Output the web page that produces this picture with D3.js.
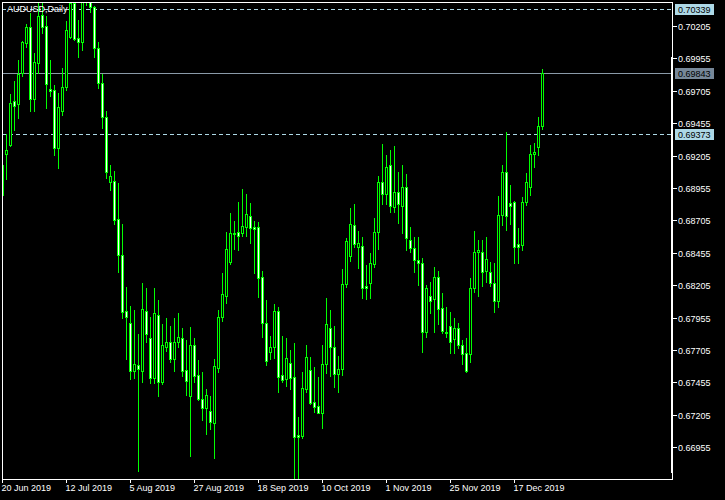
<!DOCTYPE html>
<html><head><meta charset="utf-8">
<script src="https://cdn.jsdelivr.net/npm/d3@7"></script>
<style>html,body{margin:0;padding:0;background:#000;}svg{display:block;}</style>
</head><body>
<script>
const symbolTitle = "AUDUSD,Daily";
const dateLabels = ["20 Jun 2019","12 Jul 2019","5 Aug 2019","27 Aug 2019","18 Sep 2019","10 Oct 2019","1 Nov 2019","25 Nov 2019","17 Dec 2019"];
const dateLabelBars = [0,16,32,48,64,80,96,112,128];
const priceTicks = [0.70205,0.69955,0.69705,0.69455,0.69205,0.68955,0.68705,0.68455,0.68205,0.67955,0.67705,0.67455,0.67205,0.66955];
const levelLines = [0.70339, 0.69373];
const lastPrice = 0.69843;

const opens = [
0.68901,0.69218,0.69287,0.69626,0.69603,0.69843,0.70074,0.70197,0.69642,0.69920,
0.70289,0.70205,0.69719,0.69711,0.69264,0.69549,0.69734,0.70120,0.70383,0.70112,
0.70082,0.70406,0.70421,0.70352,0.70035,0.69765,0.69503,0.69002,0.69009,0.68716,
0.68438,0.68006,0.67914,0.67544,0.67590,0.67544,0.68006,0.67798,0.67490,0.67975,
0.67459,0.67729,0.67768,0.67637,0.67768,0.67798,0.67552,0.67351,0.67744,0.67513,
0.67328,0.67258,0.67235,0.67143,0.67567,0.67960,0.68123,0.68385,0.68608,0.68616,
0.68608,0.68654,0.68740,0.68654,0.68654,0.68269,0.67914,0.67691,0.67729,0.68006,
0.67513,0.67483,0.67606,0.67498,0.67050,0.67043,0.67405,0.67552,0.67305,0.67274,
0.67220,0.67598,0.67875,0.67729,0.67521,0.67560,0.68215,0.68430,0.68669,0.68500,
0.68508,0.68200,0.68223,0.68369,0.68616,0.69002,0.68909,0.69132,0.68809,0.68925,
0.68817,0.68963,0.68554,0.68492,0.68400,0.68377,0.67845,0.68123,0.68099,0.68269,
0.68029,0.67845,0.67891,0.67791,0.67875,0.67744,0.67683,0.67675,0.68185,0.68462,
0.68462,0.68315,0.68308,0.68223,0.68084,0.68747,0.69079,0.68840,0.68848,0.68523,
0.68515,0.68848,0.68963,0.69218,0.69272,0.69434];
const highs = [
0.69226,0.69372,0.69680,0.69780,0.69943,0.70089,0.70220,0.70305,0.69997,0.70383,
0.70383,0.70282,0.69943,0.69749,0.69688,0.69881,0.70243,0.70445,0.70429,0.70251,
0.70452,0.70499,0.70445,0.70360,0.70082,0.69835,0.69549,0.69132,0.69086,0.68994,
0.68677,0.68192,0.68045,0.68014,0.67829,0.68223,0.68185,0.67960,0.68185,0.68091,
0.67906,0.67952,0.67891,0.67952,0.67991,0.67875,0.67783,0.67883,0.67798,0.67629,
0.67537,0.67405,0.67351,0.67637,0.68014,0.68300,0.68616,0.68763,0.68700,0.68848,
0.68948,0.68909,0.68840,0.68700,0.68693,0.68315,0.68091,0.67814,0.68060,0.68037,
0.67814,0.67798,0.67706,0.67760,0.67189,0.67537,0.67744,0.67652,0.67575,0.67498,
0.67744,0.68106,0.68014,0.67891,0.67660,0.68331,0.68569,0.68801,0.68832,0.68623,
0.68577,0.68362,0.68454,0.68724,0.69048,0.69295,0.69210,0.69249,0.69280,0.69079,
0.69132,0.69063,0.68654,0.68577,0.68577,0.68415,0.68208,0.68231,0.68346,0.68315,
0.68146,0.68037,0.67999,0.67952,0.67914,0.67783,0.67798,0.68261,0.68623,0.68554,
0.68554,0.68577,0.68385,0.68377,0.68894,0.69132,0.69388,0.68979,0.68856,0.68646,
0.68886,0.69071,0.69287,0.69303,0.69503,0.69874];
const lows = [
0.68786,0.69025,0.69280,0.69403,0.69495,0.69820,0.70043,0.69549,0.69549,0.69843,
0.70151,0.69572,0.69665,0.69210,0.69109,0.69518,0.69711,0.70112,0.70097,0.69966,
0.70020,0.70367,0.70313,0.69966,0.69726,0.69418,0.69032,0.68940,0.68677,0.68308,
0.67952,0.67637,0.67483,0.67490,0.66772,0.67459,0.67768,0.67451,0.67451,0.67351,
0.67443,0.67698,0.67614,0.67544,0.67729,0.67506,0.67358,0.66888,0.67459,0.67320,
0.67166,0.67058,0.67097,0.66872,0.67537,0.67929,0.68068,0.68369,0.68485,0.68477,
0.68585,0.68585,0.68531,0.68300,0.68115,0.67806,0.67590,0.67637,0.67644,0.67382,
0.67459,0.67428,0.67405,0.66718,0.66718,0.67027,0.67382,0.67289,0.67228,0.67216,
0.67104,0.67529,0.67506,0.67420,0.67382,0.67513,0.68192,0.68392,0.68500,0.68338,
0.68106,0.68099,0.68106,0.68346,0.68485,0.68832,0.68832,0.68771,0.68771,0.68685,
0.68608,0.68477,0.68462,0.68308,0.68208,0.67691,0.67806,0.67991,0.67845,0.67906,
0.67837,0.67806,0.67683,0.67683,0.67721,0.67598,0.67537,0.67614,0.68154,0.68123,
0.68200,0.68231,0.68200,0.67999,0.68037,0.68669,0.68631,0.68677,0.68377,0.68377,
0.68477,0.68825,0.68902,0.69117,0.69210,0.69411];
const closes = [
0.69132,0.69249,0.69611,0.69588,0.69835,0.70082,0.70197,0.69642,0.69928,0.70282,
0.70197,0.69757,0.69703,0.69264,0.69580,0.69734,0.70174,0.70383,0.70105,0.70082,
0.70406,0.70437,0.70352,0.70035,0.69765,0.69503,0.69079,0.69048,0.68708,0.68438,
0.67999,0.67960,0.67544,0.67598,0.67560,0.68022,0.67829,0.67490,0.67991,0.67459,
0.67744,0.67768,0.67637,0.67768,0.67806,0.67544,0.67467,0.67744,0.67506,0.67328,
0.67258,0.67358,0.67151,0.67583,0.67960,0.68138,0.68485,0.68608,0.68600,0.68585,
0.68662,0.68755,0.68646,0.68639,0.68261,0.67914,0.67621,0.67729,0.68006,0.67498,
0.67474,0.67644,0.67490,0.67035,0.67035,0.67413,0.67652,0.67297,0.67266,0.67222,
0.67598,0.67906,0.67729,0.67521,0.67560,0.68215,0.68546,0.68677,0.68523,0.68531,
0.68185,0.68185,0.68377,0.68616,0.69002,0.68909,0.69117,0.68817,0.68925,0.68832,
0.68963,0.68569,0.68492,0.68400,0.68377,0.67845,0.68185,0.68084,0.68269,0.68022,
0.67852,0.67837,0.67768,0.67875,0.67744,0.67675,0.67544,0.68185,0.68462,0.68477,
0.68308,0.68408,0.68223,0.68084,0.68747,0.69079,0.68740,0.68817,0.68500,0.68500,
0.68848,0.69002,0.69218,0.69234,0.69434,0.69843];

const W = 725, H = 500;
const L = 2, T = 2, R = 672, B = 479;
const FONT = "'Liberation Sans', Arial, sans-serif";
const GREEN = "#00ff00";

const svg = d3.select("body").append("svg").attr("width", W).attr("height", H)
  .style("background", "#000");

const x = d3.scaleLinear().domain([0, 167]).range([L + 0.5, L + 0.5 + 167 * 4]);
const y = d3.scaleLinear().domain([0.66710, 0.70390]).range([B, T]);
const snap = v => Math.round(v) + 0.5;

svg.append("defs").append("clipPath").attr("id", "plot")
  .append("rect").attr("x", L).attr("y", T).attr("width", R - L).attr("height", B - T);

const plot = svg.append("g").attr("clip-path", "url(#plot)");

// level lines
plot.selectAll("line.level").data(levelLines).join("line")
  .attr("x1", L).attr("x2", R)
  .attr("y1", d => snap(y(d))).attr("y2", d => snap(y(d)))
  .attr("stroke", "#add8e6").attr("stroke-width", 1).attr("stroke-dasharray", "4,3");
plot.append("line").attr("x1", L).attr("x2", R)
  .attr("y1", snap(y(lastPrice))).attr("y2", snap(y(lastPrice)))
  .attr("stroke", "#8a9aa8").attr("stroke-width", 1);

const bars = d3.range(opens.length).map(i => ({i, o: opens[i], h: highs[i], l: lows[i], c: closes[i]}));
const g = plot.selectAll("g.bar").data(bars).join("g");
g.append("line")
  .attr("x1", d => x(d.i)).attr("x2", d => x(d.i))
  .attr("y1", d => Math.round(y(d.h))).attr("y2", d => Math.round(y(d.l)) + 1)
  .attr("stroke", GREEN).attr("stroke-width", 1);
g.append("rect")
  .attr("x", d => x(d.i) - 1).attr("width", 2)
  .attr("y", d => snap(y(Math.max(d.o, d.c))))
  .attr("height", d => Math.max(0, snap(y(Math.min(d.o, d.c))) - snap(y(Math.max(d.o, d.c)))))
  .attr("fill", d => d.c >= d.o ? "#000" : "#fff")
  .attr("stroke", GREEN).attr("stroke-width", 1);

// frame
svg.append("line").attr("x1", L + 0.5).attr("x2", L + 0.5).attr("y1", T).attr("y2", B + 1).attr("stroke", "#fff");
svg.append("line").attr("x1", L).attr("x2", R + 1).attr("y1", T + 0.5).attr("y2", T + 0.5).attr("stroke", "#fff");
svg.append("line").attr("x1", L).attr("x2", R + 1).attr("y1", B + 0.5).attr("y2", B + 0.5).attr("stroke", "#fff");
svg.append("line").attr("x1", R + 0.5).attr("x2", R + 0.5).attr("y1", T).attr("y2", B + 1).attr("stroke", "#fff");
svg.append("rect").attr("x", R - 1).attr("y", 57).attr("width", 2).attr("height", 416).attr("fill", "#fff");

// price axis
const pa = svg.append("g").selectAll("g").data(priceTicks).join("g")
  .attr("transform", d => `translate(0,${snap(y(d))})`);
pa.append("line").attr("x1", R).attr("x2", R + 5).attr("stroke", "#fff");
pa.append("text").attr("x", R + 6).attr("y", 0).attr("dy", "0.35em")
  .attr("fill", "#fff").style("font", `9px ${FONT}`).text(d => d.toFixed(5));

// price tags
const tags = [...levelLines.map(v => ({v, bg: "#add8e6"})), {v: lastPrice, bg: "#778899"}];
const tg = svg.append("g").selectAll("g").data(tags).join("g")
  .attr("transform", d => `translate(0,${snap(y(d.v))})`);
tg.append("rect").attr("x", R + 3).attr("y", -5.5).attr("width", 39).attr("height", 11).attr("fill", d => d.bg);
tg.append("text").attr("x", R + 6).attr("y", 0).attr("dy", "0.35em")
  .attr("fill", "#000").style("font", `9px ${FONT}`).text(d => d.v.toFixed(5));

// date axis
const da = svg.append("g").selectAll("g").data(dateLabels).join("g")
  .attr("transform", (d, k) => `translate(${x(dateLabelBars[k])},0)`);
da.append("line").attr("y1", B).attr("y2", B + 4).attr("stroke", "#fff");
da.append("text").attr("x", -1).attr("y", B + 9).attr("dy", "0.35em")
  .attr("fill", "#fff").style("font", `9px ${FONT}`).text(d => d);

// title
svg.append("text").attr("x", 7).attr("y", 9).attr("dy", "0.35em")
  .attr("fill", "#fff").style("font", `9px ${FONT}`).text(symbolTitle);
</script>
</body></html>
